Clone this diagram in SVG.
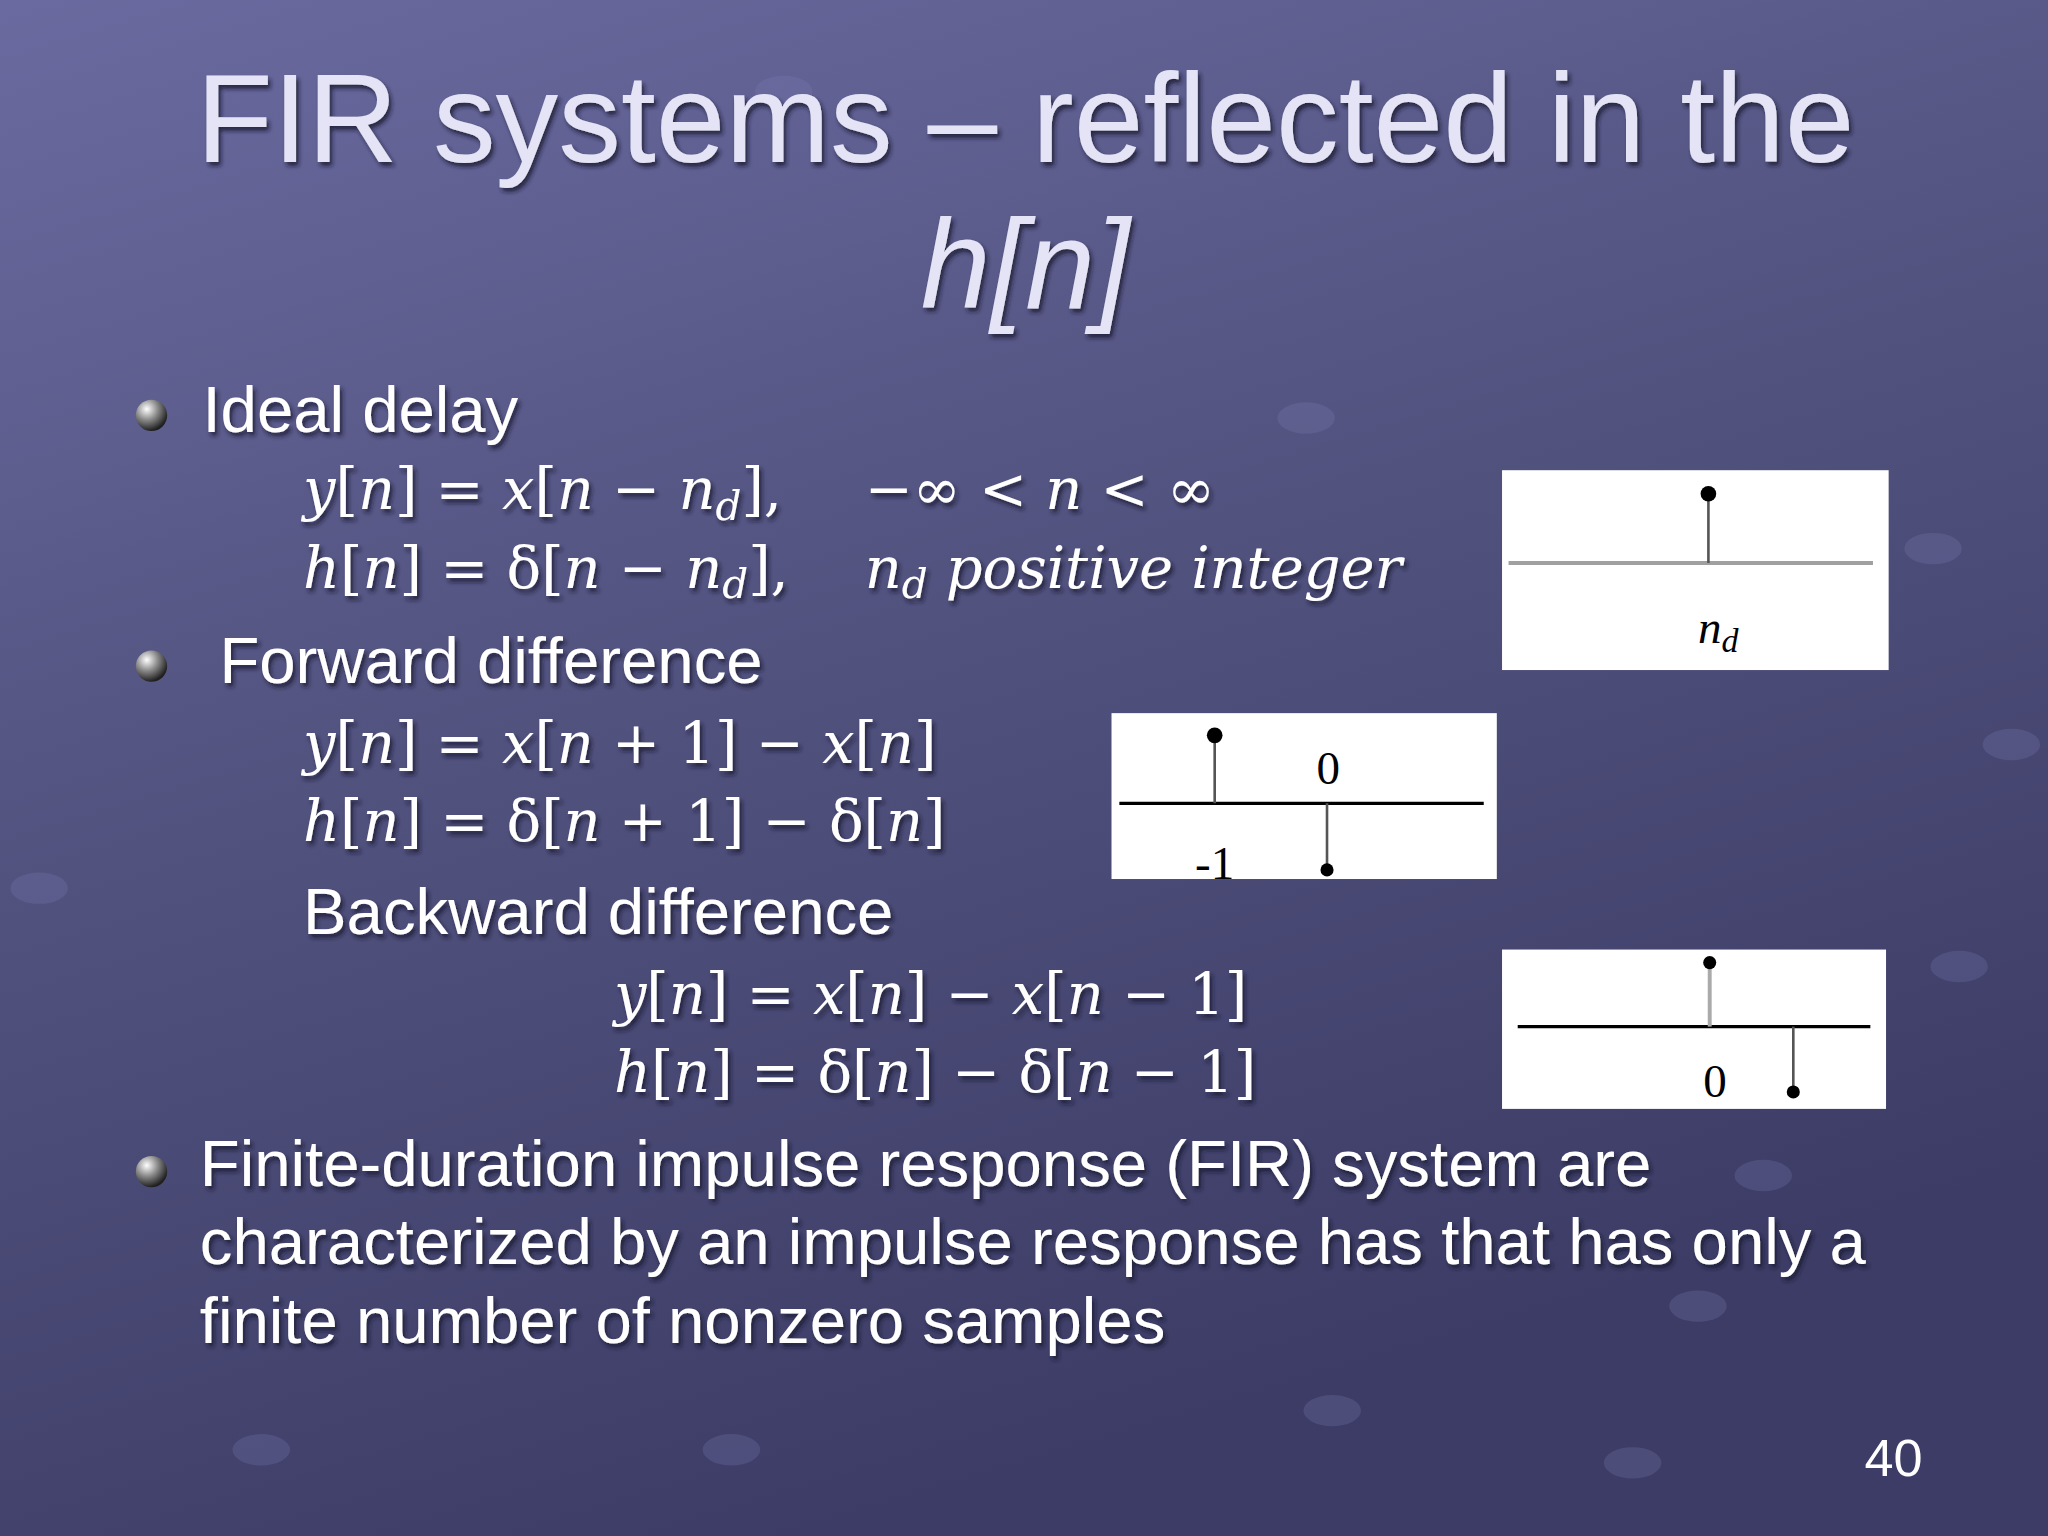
<svg xmlns="http://www.w3.org/2000/svg" width="2048" height="1536" viewBox="0 0 2048 1536">
<defs>
<linearGradient id="bg" x1="0" y1="0" x2="0.4" y2="1">
<stop offset="0" stop-color="#6a6aa0"/><stop offset="0.5" stop-color="#52527f"/><stop offset="1" stop-color="#3c3c66"/>
</linearGradient>
<radialGradient id="ball" cx="0.35" cy="0.3" r="0.7">
<stop offset="0" stop-color="#ffffff"/><stop offset="0.5" stop-color="#8a8a8a"/><stop offset="1" stop-color="#202020"/>
</radialGradient>
<filter id="sh" x="-5%" y="-5%" width="110%" height="120%"><feDropShadow dx="2" dy="3" stdDeviation="1.5" flood-color="#1a1a30" flood-opacity="0.8"/></filter>
</defs>
<style>
.t{font-family:"Liberation Sans",Arial,sans-serif;fill:#ffffff;filter:url(#sh)}
.ti{font-family:"Liberation Sans",Arial,sans-serif;fill:#e4e4f6;font-size:96px;filter:url(#sh)}
.m{font-family:"DejaVu Serif","Liberation Serif",serif;font-style:italic;fill:#ffffff;font-size:44px;filter:url(#sh)}
.up{font-style:normal}
.box{fill:#ffffff}
.dot{fill:#000}
.lab{font-family:"Liberation Serif",serif;font-size:36px;fill:#000}
</style>
<rect width="2048" height="1536" fill="url(#bg)"/>
<g transform="scale(1.30612)">
<g id="deco" fill="#8080b8" opacity="0.25">
<ellipse cx="600" cy="70" rx="22" ry="12"/><ellipse cx="1000" cy="320" rx="22" ry="12"/><ellipse cx="1480" cy="420" rx="22" ry="12"/>
<ellipse cx="1500" cy="740" rx="22" ry="12"/><ellipse cx="1300" cy="1000" rx="22" ry="12"/><ellipse cx="200" cy="1110" rx="22" ry="12"/>
<ellipse cx="1020" cy="1080" rx="22" ry="12"/><ellipse cx="1250" cy="1120" rx="22" ry="12"/><ellipse cx="560" cy="1110" rx="22" ry="12"/>
<ellipse cx="30" cy="680" rx="22" ry="12"/><ellipse cx="1540" cy="570" rx="22" ry="12"/><ellipse cx="1350" cy="900" rx="22" ry="12"/>
</g>
<g id="title">
<text class="ti" x="785" y="124" text-anchor="middle">FIR systems – reflected in the</text>
<text class="ti" x="785" y="236" text-anchor="middle" font-style="italic">h[n]</text>
</g>
<g id="bullets">
<circle cx="116" cy="318" r="12" fill="url(#ball)"/>
<circle cx="116" cy="510" r="12" fill="url(#ball)"/>
<circle cx="116" cy="897" r="12" fill="url(#ball)"/>
</g>
<g id="text">
<text class="t" x="155" y="331" font-size="50">Ideal delay</text>
<text class="m" x="232" y="390">y<tspan class="up">[</tspan>n<tspan class="up">] = </tspan>x<tspan class="up">[</tspan>n<tspan class="up"> − </tspan>n<tspan font-size="31" dy="8">d</tspan><tspan class="up" dy="-8">],</tspan><tspan x="662" class="up">−∞ &lt; </tspan>n<tspan class="up"> &lt; ∞</tspan></text>
<text class="m" x="232" y="450">h<tspan class="up">[</tspan>n<tspan class="up">] = δ[</tspan>n<tspan class="up"> − </tspan>n<tspan font-size="31" dy="8">d</tspan><tspan class="up" dy="-8">],</tspan><tspan x="662">n</tspan><tspan font-size="31" dy="8">d</tspan><tspan dy="-8"> positive integer</tspan></text>
<text class="t" x="168" y="523" font-size="50">Forward difference</text>
<text class="m" x="232" y="584">y<tspan class="up">[</tspan>n<tspan class="up">] = </tspan>x<tspan class="up">[</tspan>n<tspan class="up"> + 1] − </tspan>x<tspan class="up">[</tspan>n<tspan class="up">]</tspan></text>
<text class="m" x="232" y="644">h<tspan class="up">[</tspan>n<tspan class="up">] = δ[</tspan>n<tspan class="up"> + 1] − δ[</tspan>n<tspan class="up">]</tspan></text>
<text class="t" x="232" y="715" font-size="50">Backward difference</text>
<text class="m" x="470" y="776">y<tspan class="up">[</tspan>n<tspan class="up">] = </tspan>x<tspan class="up">[</tspan>n<tspan class="up">] − </tspan>x<tspan class="up">[</tspan>n<tspan class="up"> − 1]</tspan></text>
<text class="m" x="470" y="836">h<tspan class="up">[</tspan>n<tspan class="up">] = δ[</tspan>n<tspan class="up">] − δ[</tspan>n<tspan class="up"> − 1]</tspan></text>
<text class="t" x="153" y="908" font-size="50">Finite-duration impulse response (FIR) system are</text>
<text class="t" x="153" y="968" font-size="50">characterized by an impulse response has that has only a</text>
<text class="t" x="153" y="1028" font-size="50">finite number of nonzero samples</text>
<text class="t" x="1472" y="1130" font-size="40" text-anchor="end" style="filter:none">40</text>
</g>
<g id="plot1">
<rect class="box" x="1150" y="360" width="296" height="153"/>
<line x1="1155" y1="431" x2="1434" y2="431" stroke="#a0a0a0" stroke-width="3"/>
<line x1="1308" y1="431" x2="1308" y2="378" stroke="#555" stroke-width="2"/>
<circle class="dot" cx="1308" cy="378" r="6"/>
<text class="lab" x="1300" y="492" font-style="italic" fill="#555">n<tspan font-size="26" dy="7">d</tspan></text>
</g>
<g id="plot2">
<rect class="box" x="851" y="546" width="295" height="127"/>
<line x1="857" y1="615" x2="1136" y2="615" stroke="#000" stroke-width="2.5"/>
<line x1="930" y1="615" x2="930" y2="563" stroke="#555" stroke-width="2"/>
<circle class="dot" cx="930" cy="563" r="6"/>
<line x1="1016" y1="615" x2="1016" y2="666" stroke="#555" stroke-width="2"/>
<circle class="dot" cx="1016" cy="666" r="5"/>
<text class="lab" x="1017" y="600" text-anchor="middle">0</text>
<text class="lab" x="930" y="673" text-anchor="middle">-1</text>
</g>
<g id="plot3">
<rect class="box" x="1150" y="727" width="294" height="122"/>
<line x1="1162" y1="786" x2="1432" y2="786" stroke="#000" stroke-width="2.5"/>
<line x1="1309" y1="786" x2="1309" y2="737" stroke="#aaa" stroke-width="3"/>
<circle class="dot" cx="1309" cy="737" r="5"/>
<line x1="1373" y1="786" x2="1373" y2="836" stroke="#555" stroke-width="2"/>
<circle class="dot" cx="1373" cy="836" r="5"/>
<text class="lab" x="1313" y="840" text-anchor="middle">0</text>
</g>
</g>
</svg>
